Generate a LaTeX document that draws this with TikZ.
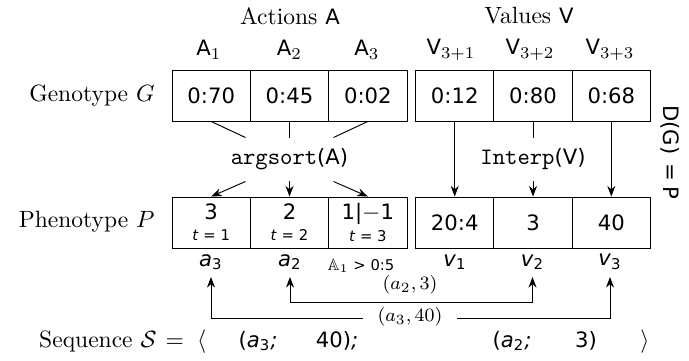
\documentclass[tikz,border=0pt]{standalone}
\usepackage{amssymb}
\usepackage{fontspec}
\setsansfont{DejaVu Sans}[Scale=0.9]
\usetikzlibrary{arrows.meta,calc}
\begin{document}
\begin{tikzpicture}[x=0.425pt,y=-0.425pt,
  cell/.style={draw, inner sep=0pt, minimum width=33.29pt, minimum height=21.68pt, font=\sffamily, align=center},
  lab/.style={inner sep=0pt},
  fn/.style={inner sep=0pt, minimum height=18.28pt},
  tip/.tip={Stealth[length=4.5pt,width=3.4pt]},
  arr/.style={-tip},
  darr/.style={tip-tip},
  ]
\useasboundingbox (0,0) rectangle (689,360);

% headings
\node[lab] (actions) at (290,16) {Actions $\mathsf{A}$};
\node[lab] (values) at (529,16) {Values $\mathsf{V}$};
\node[lab] (hA1) at (209,50) {$\mathsf{A}_1$};
\node[lab] (hA2) at (289.5,50) {$\mathsf{A}_2$};
\node[lab] (hA3) at (367,50) {$\mathsf{A}_3$};
\node[lab] (hV1) at (451,50) {$\mathsf{V}_{3+1}$};
\node[lab] (hV2) at (530,50) {$\mathsf{V}_{3+2}$};
\node[lab] (hV3) at (610,50) {$\mathsf{V}_{3+3}$};

% row labels
\node[lab, anchor=east] (genolab) at (155,95.5) {Genotype $G$};
\node[lab, anchor=east] (phenolab) at (155,222) {Phenotype $P$};

% genotype cells
\node[cell] (g1) at (211.2,95.5) {0:70};
\node[cell] (g2) at (289.5,95.5) {0:45};
\node[cell] (g3) at (367.8,95.5) {0:02};
\node[cell] (g4) at (454.7,95.5) {0:12};
\node[cell] (g5) at (533,95.5) {0:80};
\node[cell] (g6) at (611.3,95.5) {0:68};

% phenotype cells
\node[cell] (p1) at (211.2,222.5) {3\\[-3pt]{\scriptsize\textit{t} = 1}};
\node[cell] (p2) at (289.5,222.5) {2\\[-3pt]{\scriptsize\textit{t} = 2}};
\node[cell] (p3) at (367.8,222.5) {1|$-$1\\[-3pt]{\scriptsize\textit{t} = 3}};
\node[cell] (p4) at (454.7,222.5) {20:4};
\node[cell] (p5) at (533,222.5) {3};
\node[cell] (p6) at (611.3,222.5) {40};

% functions
\node[fn] (as) at (289.5,159.5) {\texttt{argsort}\textsf{(A)}};
\node[fn] (ip) at (533,159.5) {\texttt{Interp}\textsf{(V)}};

\draw (g1.south) -- ($(as.north)+(-44,0)$);
\draw (g2.south) -- (as.north);
\draw (g3.south) -- ($(as.north)+(44,0)$);
\draw[arr] ($(as.south)+(-44,0)$) -- (p1.north);
\draw[arr] (as.south) -- (p2.north);
\draw[arr] ($(as.south)+(44,0)$) -- (p3.north);
\draw[arr] (g4.south) -- (p4.north);
\draw (g5.south) -- (ip.north);
\draw[arr] (ip.south) -- (p5.north);
\draw[arr] (g6.south) -- (p6.north);

% side label
\node[lab, rotate=-90, font=\sffamily] (dgp) at (670,152) {D(G)\hspace{4pt}=\hspace{2pt}P};

% labels below phenotype
\node[lab] (la3) at (211,262) {\textsf{\textit{a}\textsubscript{\upshape 3}}};
\node[lab] (la2) at (290,262) {\textsf{\textit{a}\textsubscript{\upshape 2}}};
\node[lab] (cond) at (361,266) {\scriptsize\sffamily $\mathbb{A}_1$ > 0:5};
\node[lab] (lv1) at (455,262) {\textsf{\textit{v}\textsubscript{\upshape 1}}};
\node[lab] (lv2) at (532.5,262) {\textsf{\textit{v}\textsubscript{\upshape 2}}};
\node[lab] (lv3) at (610,262) {\textsf{\textit{v}\textsubscript{\upshape 3}}};

% pairing arrows
\draw[darr] ($(la2)+(0,15)$) |- ($(lv2)+(0,40)$) -- ($(lv2)+(0,15)$);
\draw[darr] ($(la3)+(0,15)$) |- ($(lv3)+(0,56)$) -- ($(lv3)+(0,15)$);
\node[lab, font=\footnotesize] (l23) at (410,285) {$(a_2,3)$};
\node[lab, font=\footnotesize, fill=white, inner xsep=6pt, inner ysep=0pt] (l340) at (410,317) {$(a_3,40)$};

% sequence
\node[lab, anchor=base east] (seqlab) at (157,347) {Sequence $\mathcal{S}$};
\node[lab, anchor=base] (seqeq) at (186,347) {$=\;\langle$};
\node[lab, anchor=base] (s1) at (258,347) {\textsf{(\textit{a}\textsubscript{\upshape 3}\textit{;}}};
\node[lab, anchor=base] (s2) at (337,347) {\textsf{40)\textit{;}}};
\node[lab, anchor=base] (s3) at (512,347) {\textsf{(\textit{a}\textsubscript{\upshape 2}\textit{;}}};
\node[lab, anchor=base] (s4) at (586,347) {\textsf{3)}};
\node[lab, anchor=base] (s5) at (645,347) {$\rangle$};
\end{tikzpicture}
\end{document}
